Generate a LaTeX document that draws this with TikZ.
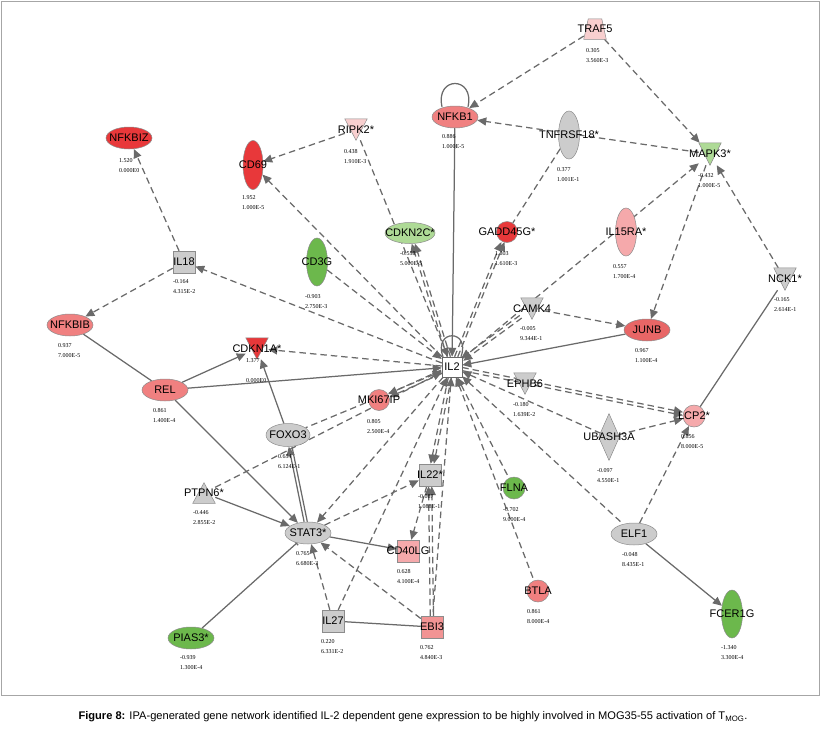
\documentclass[tikz,border=0pt]{standalone}
\usepackage{fontspec}
\setmainfont{Liberation Serif}
\newfontfamily\genefont{Liberation Sans}
\usetikzlibrary{shapes.geometric,arrows.meta,backgrounds}
\pgfdeclarelayer{bodies}
\pgfsetlayers{background,bodies,main}
\definecolor{upred}{HTML}{E8383A}
\definecolor{upsalmon}{HTML}{F08080}
\definecolor{upjunb}{HTML}{E86666}
\definecolor{uppink}{HTML}{F8CFCF}
\definecolor{uprose}{HTML}{F5A9AB}
\definecolor{upebi}{HTML}{F29494}
\definecolor{dngreen}{HTML}{6CB84C}
\definecolor{dnlight}{HTML}{AEDA96}
\definecolor{nochange}{HTML}{CCCCCC}
\definecolor{linkgray}{HTML}{6A6A6A}
\tikzset{
  gene/.style={draw=black!45, line width=0.5pt, inner sep=0pt, font=\genefont\fontsize{11}{11}\selectfont},
  oval/.style={gene, ellipse, minimum width=46pt, minimum height=22pt},
  tall/.style={gene, ellipse, minimum width=21pt, minimum height=48pt},
  ball/.style={gene, circle, minimum size=22pt},
  box/.style={gene, rectangle, minimum size=22pt},
  tri/.style={gene, draw=none, rectangle, minimum width=22pt, minimum height=21pt},
  kite/.style={gene, diamond, minimum width=21pt, minimum height=47pt},
  outline/.style={draw=black!45, line width=0.5pt},
  val/.style={font=\fontsize{6}{10.5}\selectfont, anchor=north west, align=left, inner sep=0pt},
  link/.style={draw=linkgray, line width=1.25pt},
  dl/.style={link, dash pattern=on 6.5pt off 4pt},
  da/.style={dl, -{Triangle[length=9pt,width=8pt]}},
  dr/.style={dl, {Triangle[length=9pt,width=8pt]}-},
  sa/.style={link, -{Triangle[length=9pt,width=8pt]}},
  sl/.style={link},
}
\newcommand\gn[1]{\makebox[0pt]{#1}}
% triangles and the trapezium are filled behind their labels
\newcommand\downtri[2]{\begin{pgfonlayer}{bodies}\filldraw[outline, fill=#2] (#1.north west) -- (#1.north east) -- (#1.south) -- cycle;\end{pgfonlayer}}
\newcommand\uptri[2]{\begin{pgfonlayer}{bodies}\filldraw[outline, fill=#2] (#1.south west) -- (#1.south east) -- (#1.north) -- cycle;\end{pgfonlayer}}
\begin{document}
\begin{tikzpicture}[x=1pt,y=-1pt]
\useasboundingbox (0,0) rectangle (821,728);
\node[tri, minimum height=20pt] (traf5) at (595,29) {\gn{TRAF5}};
\begin{pgfonlayer}{bodies}
\filldraw[outline, fill=uppink] (traf5.south west) -- (traf5.south east) -- ([xshift=-4.5pt]traf5.north east) -- ([xshift=4.5pt]traf5.north west) -- cycle;
\end{pgfonlayer}
\node[oval, fill=upsalmon] (nfkb1) at (455,117) {\gn{NFKB1}};
\node[tall, fill=nochange] (tnfrsf18) at (569,135) {\gn{TNFRSF18*}};
\node[tri, minimum height=22pt] (mapk3) at (710,154) {\gn{MAPK3*}};
\downtri{mapk3}{dnlight}
\node[tri] (ripk2) at (356,129.5) {\gn{RIPK2*}};
\downtri{ripk2}{uppink}
\node[oval, fill=upred] (nfkbiz) at (129,138) {\gn{NFKBIZ}};
\node[tall, fill=upred, minimum width=20pt, minimum height=49pt] (cd69) at (253,165) {\gn{CD69}};
\node[oval, fill=dnlight, minimum width=50pt, minimum height=21pt] (cdkn2c) at (410,233) {\gn{CDKN2C*}};
\node[ball, fill=upred, minimum size=21pt] (gadd45g) at (507,232) {\gn{GADD45G*}};
\node[tall, fill=uprose] (il15ra) at (626,232) {\gn{IL15RA*}};
\node[tall, fill=dngreen] (cd3g) at (317,262) {\gn{CD3G}};
\node[box, fill=nochange] (il18) at (184,262) {\gn{IL18}};
\node[tri, minimum height=22pt] (nck1) at (785,279) {\gn{NCK1*}};
\downtri{nck1}{nochange}
\node[tri] (camk4) at (532,308.5) {\gn{CAMK4}};
\downtri{camk4}{nochange}
\node[oval, fill=upjunb] (junb) at (647,330) {\gn{JUNB}};
\node[oval, fill=upsalmon] (nfkbib) at (70,325) {\gn{NFKBIB}};
\node[tri] (cdkn1a) at (257,348.5) {\gn{CDKN1A*}};
\downtri{cdkn1a}{upred}
\node[box, fill=white, draw=black!60, minimum size=20pt] (il2) at (452,367) {\gn{IL2}};
\node[tri] (ephb6) at (525,383.5) {\gn{EPHB6}};
\downtri{ephb6}{nochange}
\node[oval, fill=upsalmon] (rel) at (165,390) {\gn{REL}};
\node[ball, fill=upsalmon, minimum size=21pt] (mki67ip) at (379,400) {\gn{MKI67IP}};
\node[ball, fill=uprose] (lcp2) at (694,416) {\gn{LCP2*}};
\node[kite, fill=nochange] (ubash3a) at (609,437) {\gn{UBASH3A}};
\node[oval, fill=nochange, minimum width=44pt, minimum height=23pt] (foxo3) at (288,435) {\gn{FOXO3}};
\node[box, fill=nochange] (il22) at (430,475) {\gn{IL22*}};
\node[tri, minimum height=20pt] (ptpn6) at (204,493) {\gn{PTPN6*}};
\uptri{ptpn6}{nochange}
\node[ball, fill=dngreen] (flna) at (514,488) {\gn{FLNA}};
\node[oval, fill=nochange] (stat3) at (308,533) {\gn{STAT3*}};
\node[oval, fill=nochange] (elf1) at (634,534) {\gn{ELF1}};
\node[box, fill=uprose] (cd40lg) at (408,551) {\gn{CD40LG}};
\node[ball, fill=upsalmon] (btla) at (538,591) {\gn{BTLA}};
\node[box, fill=nochange] (il27) at (333,621) {\gn{IL27}};
\node[box, fill=upebi] (ebi3) at (432,627) {\gn{EBI3}};
\node[oval, fill=dngreen] (pias3) at (191,638) {\gn{PIAS3*}};
\node[tall, fill=dngreen] (fcer1g) at (732,614) {\gn{FCER1G}};
\node[val] (traf5v) at (586,48) {0.305\\3.560E-3};
\node[val] (nfkb1v) at (442,134) {0.886\\1.000E-5};
\node[val] (tnfrsf18v) at (557,167) {0.377\\1.001E-1};
\node[val] (mapk3v) at (698,173) {-0.432\\1.000E-5};
\node[val] (ripk2v) at (344,149) {0.438\\1.910E-3};
\node[val] (nfkbizv) at (119,158) {1.520\\0.000E0};
\node[val] (cd69v) at (242,195) {1.952\\1.000E-5};
\node[val] (cdkn2cv) at (400,251) {-0.558\\5.000E-5};
\node[val] (gadd45gv) at (495,251) {1.803\\1.610E-3};
\node[val] (il15rav) at (613,264) {0.557\\1.700E-4};
\node[val] (cd3gv) at (305,294) {-0.903\\2.750E-3};
\node[val] (il18v) at (173,279) {-0.164\\4.315E-2};
\node[val] (nck1v) at (774,297) {-0.165\\2.614E-1};
\node[val] (camk4v) at (520,326) {-0.005\\9.344E-1};
\node[val] (junbv) at (635,348) {0.967\\1.100E-4};
\node[val] (nfkbibv) at (58,343) {0.937\\7.000E-5};
\node[val] (cdkn1av) at (246,358) {1.377\\[9.5pt]0.000E0};
\node[val] (relv) at (153,408) {0.861\\1.400E-4};
\node[val] (mki67ipv) at (367,419) {0.805\\2.500E-4};
\node[val] (foxo3v) at (278,454) {0.654\\6.124E-1};
\node[val] (ephb6v) at (513,402) {-0.180\\1.639E-2};
\node[val] (lcp2v) at (681,434) {0.856\\8.000E-5};
\node[val] (ubash3av) at (597,468) {-0.097\\4.550E-1};
\node[val] (il22v) at (418,494) {-0.087\\1.088E-1};
\node[val] (ptpn6v) at (193,510) {-0.446\\2.855E-2};
\node[val] (flnav) at (503,507) {-0.702\\9.000E-4};
\node[val] (stat3v) at (296,551) {0.765\\6.680E-3};
\node[val] (elf1v) at (622,552) {-0.048\\8.435E-1};
\node[val] (cd40lgv) at (397,569) {0.628\\4.100E-4};
\node[val] (btlav) at (527,609) {0.861\\8.000E-4};
\node[val] (il27v) at (321,639) {0.220\\6.331E-2};
\node[val] (ebi3v) at (420,645) {0.762\\4.840E-3};
\node[val] (pias3v) at (180,655) {-0.939\\1.300E-4};
\node[val] (fcer1gv) at (721,645) {-1.340\\3.300E-4};
\node[font=\genefont\fontsize{11.1}{13}\selectfont] (caption) at (413,717) {\textbf{Figure 8:} IPA-generated gene network identified IL-2 dependent gene expression to be highly involved in MOG35-55 activation of T\textsubscript{MOG}.};
\begin{scope}[on background layer]
\draw[black!35] (1,1) rectangle (819,695);
\draw[da] (traf5) -- (nfkb1);
\draw[da] (traf5) -- (mapk3);
\draw[da] (mapk3) -- (nfkb1);
\draw[sl] ([xshift=-13pt,yshift=-1pt]nfkb1.north) .. controls +(-7,-31) and +(7,-31) .. ([xshift=13pt,yshift=-1pt]nfkb1.north);
\draw[dl] (tnfrsf18) -- (gadd45g);
\draw[da, transform canvas={xshift=-1.6pt}] (il2) -- (gadd45g);
\draw[da, transform canvas={xshift=1.6pt}] (il2) -- (gadd45g);
\draw[da] (il2) -- (mapk3);
\draw[da, transform canvas={xshift=1pt,yshift=-1.3pt}] (camk4) -- (il2);
\draw[da, transform canvas={xshift=-1pt,yshift=1.3pt}] (camk4) -- (il2);
\draw[da] (mapk3) -- (junb);
\draw[da] (nck1) -- (mapk3);
\draw[sl] (lcp2) -- (nck1);
\draw[da] (camk4) -- (junb);
\draw[sa] (junb) -- (il2);
\draw[da, transform canvas={yshift=1.6pt}] (il2) -- (lcp2);
\draw[da, transform canvas={yshift=-1.6pt}] (il2) -- (lcp2);
\draw[dr] (il2) -- (ubash3a);
\draw[da] (ubash3a) -- (lcp2);
\draw[dr] (il2) -- (elf1);
\draw[da] (elf1) -- (lcp2);
\draw[sa] (elf1) -- (fcer1g);
\draw[dr] (il2) -- (flna);
\draw[dr] (il2) -- (btla);
\draw[da, transform canvas={xshift=-1.6pt}] (il2) -- (il22);
\draw[da, transform canvas={xshift=1.6pt}] (il2) -- (il22);
\draw[dr] (il2) -- (ebi3);
\draw[da, transform canvas={xshift=-1.6pt}] (ebi3) -- (il22);
\draw[da, transform canvas={xshift=1.6pt}] (ebi3) -- (il22);
\draw[da] (il22) -- (cd40lg);
\draw[da] (stat3) -- (il22);
\draw[da] (il2) -- (stat3);
\draw[da, transform canvas={xshift=0.7pt,yshift=-1.5pt}] (il2) -- (mki67ip);
\draw[da, transform canvas={xshift=-0.7pt,yshift=1.5pt}] (il2) -- (mki67ip);
\draw[dr] (il2) -- (foxo3);
\draw[da] (ptpn6) -- (il2);
\draw[sa, transform canvas={xshift=-1.6pt}] (stat3) -- (foxo3);
\draw[sl, transform canvas={xshift=1.6pt}] (stat3) -- (foxo3);
\draw[sa] (foxo3) -- (cdkn1a);
\draw[sa] (ptpn6) -- (stat3);
\draw[sa] (rel) -- (stat3);
\draw[sa] (rel) -- (cdkn1a);
\draw[sa] (rel) -- (il2);
\draw[sl] (nfkbib) -- (rel);
\draw[da] (il18) -- (nfkbib);
\draw[da] (il18) -- (nfkbiz);
\draw[da] (il2) -- (il18);
\draw[da] (il2) -- (cdkn1a);
\draw[da] (il2) -- (cd69);
\draw[da] (ripk2) -- (cd69);
\draw[da] (ripk2) -- (il2);
\draw[da, transform canvas={xshift=-1.6pt}] (il2) -- (cdkn2c);
\draw[da, transform canvas={xshift=1.6pt}] (il2) -- (cdkn2c);
\draw[da] (cd3g) -- (il2);
\draw[sa] (nfkb1) -- (il2);
\draw[sl] ([xshift=-9pt]il2.north) .. controls +(-10,-28) and +(10,-28) .. ([xshift=9pt]il2.north);
\draw[da] (il27) -- (stat3);
\draw[da] (il27) -- (il2);
\draw[sl] (il27) -- (ebi3);
\draw[da] (ebi3) -- (stat3);
\draw[sa] (stat3) -- (cd40lg);
\draw[sl, -{Bar[width=5pt]}] (pias3) -- (stat3);
\end{scope}
\end{tikzpicture}
\end{document}
